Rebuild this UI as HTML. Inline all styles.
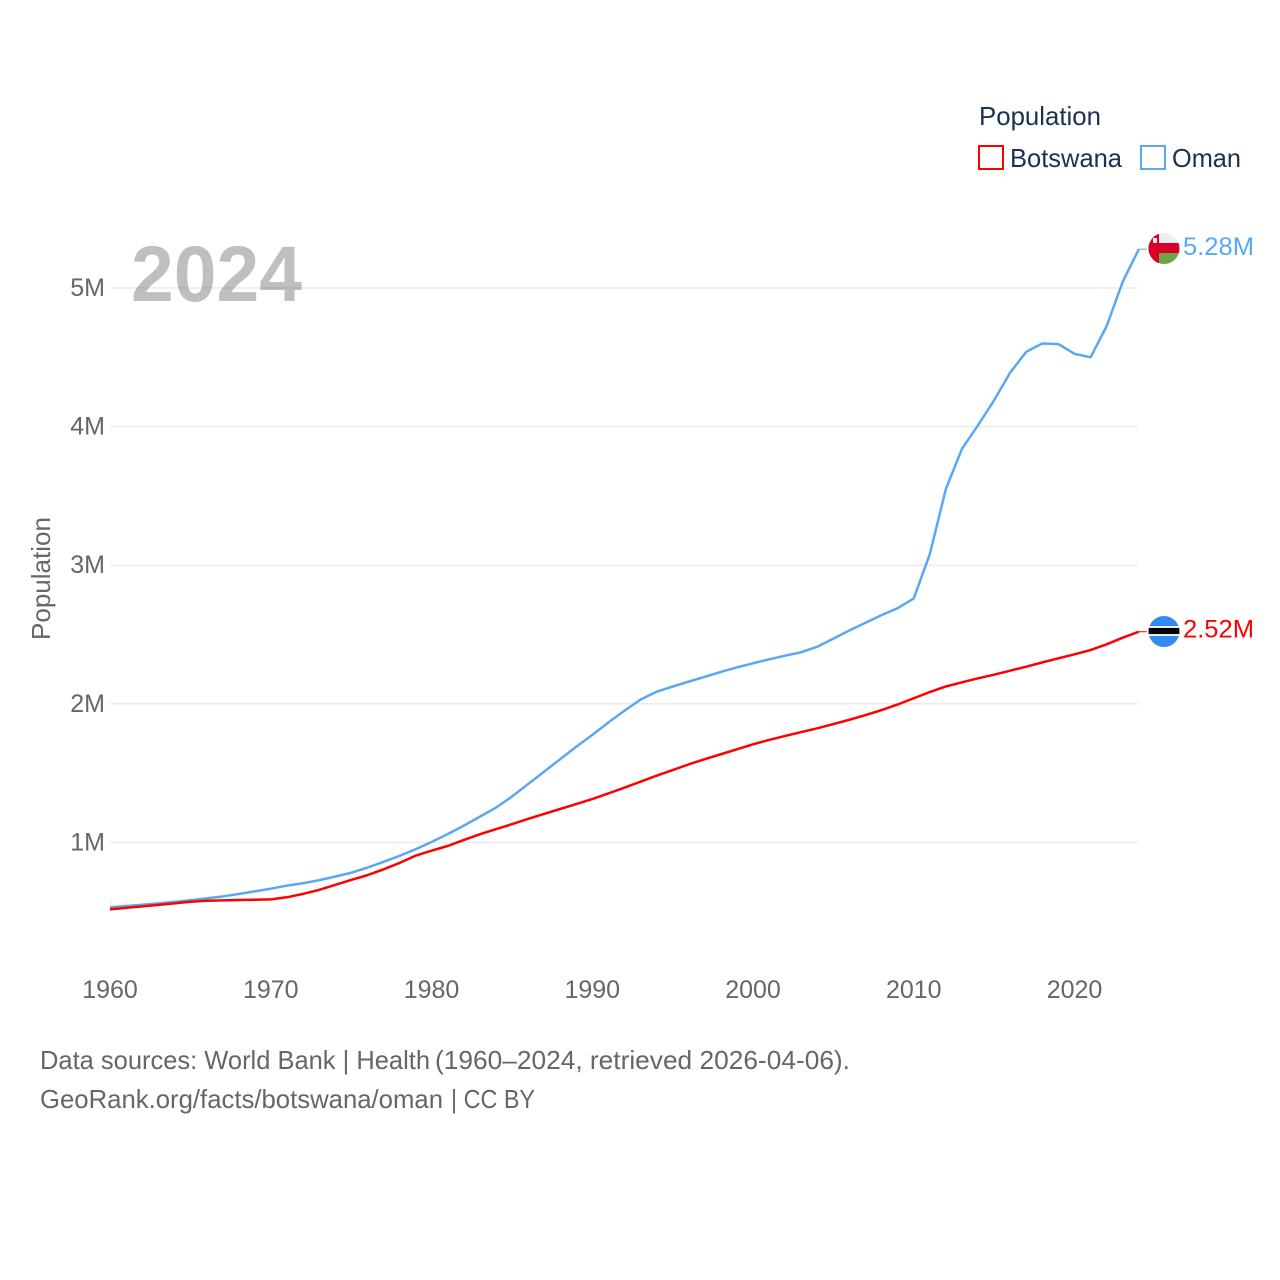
<!DOCTYPE html>
<html>
<head>
<meta charset="utf-8">
<title>Population: Botswana and Oman</title>
<style>
html,body{margin:0;padding:0;background:#fff;}
svg{display:block;font-family:"Liberation Sans",sans-serif;}
</style>
</head>
<body>
<svg id="chart" xmlns="http://www.w3.org/2000/svg" width="1280" height="1280" viewBox="0 0 1280 1280">
  <rect width="1280" height="1280" fill="#ffffff"/>
  <g id="grid"></g>
  <text x="131" y="301" font-size="79" font-weight="bold" fill="#000000" fill-opacity="0.25" textLength="171" lengthAdjust="spacingAndGlyphs">2024</text>
  <g id="yticks"></g>
  <g id="xticks"></g>
  <text transform="translate(50,640) rotate(-90)" font-size="26" fill="#666666" textLength="123" lengthAdjust="spacingAndGlyphs">Population</text>
  <g id="series"></g>
  <defs>
    <clipPath id="flag-clip-oman"><circle cx="1164" cy="248.5" r="15.5"/></clipPath>
    <clipPath id="flag-clip-botswana"><circle cx="1164" cy="631.5" r="15.5"/></clipPath>
  </defs>
  <g id="flag-oman" clip-path="url(#flag-clip-oman)">
    <rect x="1148" y="233" width="32" height="10" fill="#eeeeee"/>
    <rect x="1148" y="243" width="32" height="10" fill="#d80027"/>
    <rect x="1148" y="253" width="32" height="11" fill="#6da544"/>
    <rect x="1148" y="233" width="11" height="31" fill="#d80027"/>
    <rect x="1153" y="238" width="4" height="5" fill="#eeeeee"/>
  </g>
  <g id="flag-botswana" clip-path="url(#flag-clip-botswana)">
    <rect x="1148" y="616" width="32" height="31" fill="#338af3"/>
    <rect x="1148" y="626" width="32" height="10" fill="#eeeeee"/>
    <rect x="1148" y="628" width="32" height="6" fill="#000000"/>
  </g>
  <g id="value-labels"></g>

  <text x="979" y="125" font-size="26" fill="#1a3251" textLength="122" lengthAdjust="spacingAndGlyphs">Population</text>
  <rect x="979" y="146" width="24" height="23" fill="none" stroke="#ff0000" stroke-width="2"/>
  <text x="1010" y="167" font-size="26" fill="#1a3251" textLength="112" lengthAdjust="spacingAndGlyphs">Botswana</text>
  <rect x="1141" y="146" width="24" height="23" fill="none" stroke="#5ba8f0" stroke-width="2"/>
  <text x="1172" y="167" font-size="26" fill="#1a3251" textLength="69" lengthAdjust="spacingAndGlyphs">Oman</text>

  <text x="40" y="1069" font-size="26" fill="#666666" textLength="390" lengthAdjust="spacingAndGlyphs">Data sources: World Bank | Health</text>
  <text x="435" y="1069" font-size="26" fill="#666666" textLength="415" lengthAdjust="spacingAndGlyphs">(1960–2024, retrieved 2026-04-06).</text>
  <text x="40" y="1108" font-size="26" fill="#666666" textLength="403" lengthAdjust="spacingAndGlyphs">GeoRank.org/facts/botswana/oman</text>
  <text x="451" y="1108" font-size="26" fill="#666666" textLength="84" lengthAdjust="spacingAndGlyphs">| CC BY</text>
</svg>
<script>
var years = [1960,1961,1962,1963,1964,1965,1966,1967,1968,1969,1970,1971,1972,1973,1974,1975,1976,1977,1978,1979,1980,1981,1982,1983,1984,1985,1986,1987,1988,1989,1990,1991,1992,1993,1994,1995,1996,1997,1998,1999,2000,2001,2002,2003,2004,2005,2006,2007,2008,2009,2010,2011,2012,2013,2014,2015,2016,2017,2018,2019,2020,2021,2022,2023,2024];
var botswanaValues = [0.517,0.528,0.538,0.549,0.56,0.572,0.579,0.582,0.584,0.586,0.589,0.604,0.628,0.657,0.693,0.729,0.763,0.805,0.851,0.904,0.94,0.974,1.017,1.058,1.095,1.131,1.169,1.205,1.241,1.277,1.313,1.353,1.395,1.438,1.481,1.522,1.563,1.60,1.636,1.672,1.708,1.739,1.768,1.796,1.823,1.854,1.885,1.919,1.955,1.995,2.04,2.085,2.125,2.155,2.184,2.21,2.239,2.268,2.299,2.328,2.357,2.388,2.429,2.477,2.52];
var omanValues = [0.532,0.541,0.55,0.56,0.571,0.583,0.596,0.61,0.628,0.647,0.666,0.688,0.705,0.727,0.753,0.781,0.818,0.859,0.902,0.95,1.003,1.06,1.12,1.185,1.25,1.33,1.42,1.51,1.60,1.69,1.775,1.865,1.95,2.03,2.087,2.124,2.16,2.195,2.23,2.263,2.292,2.321,2.347,2.372,2.412,2.47,2.53,2.585,2.64,2.69,2.76,3.08,3.55,3.84,4.01,4.19,4.39,4.54,4.60,4.595,4.525,4.50,4.725,5.045,5.28];
var xTickYears = [1960,1970,1980,1990,2000,2010,2020];
var yTickValues = [1,2,3,4,5];
var yTickLabels = ["1M","2M","3M","4M","5M"];
var endLabelBotswana = "2.52M";
var endLabelOman = "5.28M";

var SVG_NS = "http://www.w3.org/2000/svg";
function xScale(year){ return 110 + (year - 1960) * 16.075; }
function yScale(value){ return 981 - value * 138.6; }

function make(tag, attrs, parent, text){
  var el = document.createElementNS(SVG_NS, tag);
  for (var k in attrs) { el.setAttribute(k, attrs[k]); }
  if (text !== undefined) { el.textContent = text; }
  parent.appendChild(el);
  return el;
}

var gridGroup = document.getElementById("grid");
var yTickGroup = document.getElementById("yticks");
var xTickGroup = document.getElementById("xticks");
var seriesGroup = document.getElementById("series");
var labelGroup = document.getElementById("value-labels");

yTickValues.forEach(function(v, i){
  var py = yScale(v);
  var line = make("line", {x1:110, x2:1138, y1:py, y2:py, stroke:"#ebebeb", "stroke-width":1.5}, gridGroup);
  
  
  var label = make("text", {x:105, y:py + 8, "text-anchor":"end", "font-size":25, fill:"#666666"}, yTickGroup, yTickLabels[i]);
  
  
});

xTickYears.forEach(function(yr){
  var label = make("text", {x:xScale(yr), y:998, "text-anchor":"middle", "font-size":25, fill:"#666666"}, xTickGroup, String(yr));
  
  
});

function linePath(values){
  return values.map(function(v, i){
    return (i ? "L" : "M") + xScale(years[i]).toFixed(2) + " " + yScale(v).toFixed(2);
  }).join(" ");
}

var omanLine = make("path", {d:linePath(omanValues), fill:"none", stroke:"#5ba8f0", "stroke-width":2.5, "stroke-linejoin":"round"}, seriesGroup);


var botswanaLine = make("path", {d:linePath(botswanaValues), fill:"none", stroke:"#ff0000", "stroke-width":2.5, "stroke-linejoin":"round"}, seriesGroup);



var lastYearX = xScale(years[years.length - 1]);
var omanEndY = yScale(omanValues[omanValues.length - 1]);
var botswanaEndY = yScale(botswanaValues[botswanaValues.length - 1]);

var omanLeader = make("line", {x1:lastYearX, x2:lastYearX + 8, y1:omanEndY, y2:omanEndY, stroke:"#5ba8f0", "stroke-width":1}, seriesGroup);


var botswanaLeader = make("line", {x1:lastYearX, x2:lastYearX + 8, y1:botswanaEndY, y2:botswanaEndY, stroke:"#ff0000", "stroke-width":1}, seriesGroup);



var omanLabel = make("text", {x:1183, y:omanEndY + 6, "font-size":25, fill:"#5ba8f0", textLength:71, lengthAdjust:"spacingAndGlyphs"}, labelGroup, endLabelOman);


var botswanaLabel = make("text", {x:1183, y:botswanaEndY + 6, "font-size":25, fill:"#ff0000", textLength:71, lengthAdjust:"spacingAndGlyphs"}, labelGroup, endLabelBotswana);



/* Flags follow each series' final value. Reference positions correspond to the default offset. */
document.getElementById("flag-oman").setAttribute("transform", "translate(0," + (omanEndY - 249.19).toFixed(2) + ")");
document.getElementById("flag-botswana").setAttribute("transform", "translate(0," + (botswanaEndY - 631.73).toFixed(2) + ")");
</script>
</body>
</html>
